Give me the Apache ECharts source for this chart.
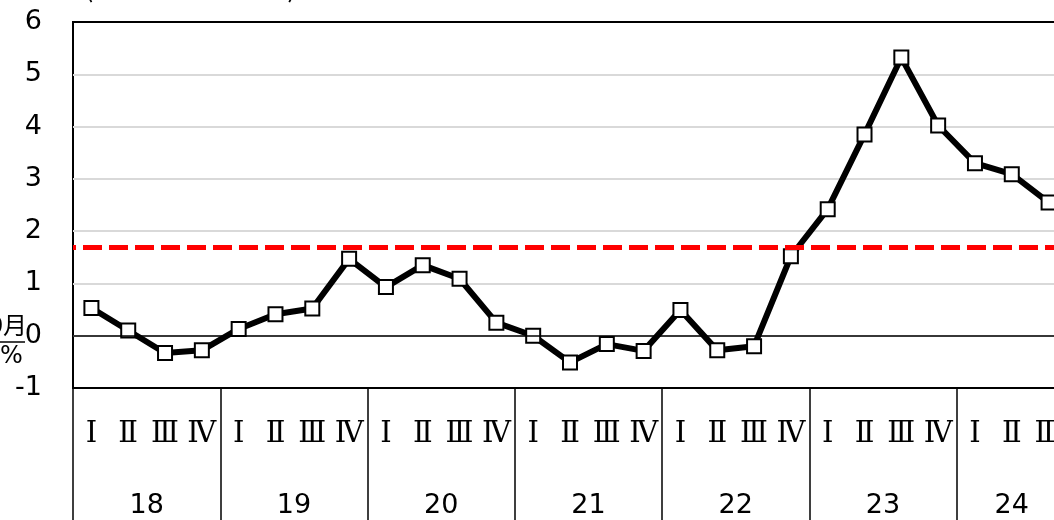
<!DOCTYPE html>
<html>
<head>
<meta charset="utf-8">
<script src="https://cdn.jsdelivr.net/npm/echarts@6/dist/echarts.min.js"></script>
<style>
  html, body { margin: 0; padding: 0; background: #fff; }
  #chart { width: 1054px; height: 520px; }
</style>
</head>
<body>
<div id="chart"></div>
<script>
// quarters from 2018 Q1 to 2024 Q3
const quarterLabels = [
  'Ⅰ', 'Ⅱ', 'Ⅲ', 'Ⅳ', 'Ⅰ', 'Ⅱ', 'Ⅲ', 'Ⅳ', 'Ⅰ', 'Ⅱ', 'Ⅲ', 'Ⅳ', 'Ⅰ', 'Ⅱ',
  'Ⅲ', 'Ⅳ', 'Ⅰ', 'Ⅱ', 'Ⅲ', 'Ⅳ', 'Ⅰ', 'Ⅱ', 'Ⅲ', 'Ⅳ', 'Ⅰ', 'Ⅱ', 'Ⅲ'
]
const yearLabels = ['18', '19', '20', '21', '22', '23', '24']
const quartersPerYear = [4, 4, 4, 4, 4, 4, 3]
const yoyValues = [
  0.53, 0.10, -0.33, -0.28, 0.13, 0.41, 0.52, 1.47, 0.93, 1.35, 1.09, 0.25,
  0.00, -0.51, -0.16, -0.29, 0.49, -0.28, -0.20, 1.52, 2.42, 3.85, 5.32,
  4.02, 3.30, 3.09, 2.55
]
const referenceLevel = 1.7
const yTicks = [-1, 0, 1, 2, 3, 4, 5, 6]

// year group boundaries / centres, counted in quarters
let yearBounds = [0]
let yearCentres = []
quartersPerYear.forEach((n) => {
  let start = yearBounds[yearBounds.length - 1]
  yearCentres.push(start + n / 2)
  yearBounds.push(start + n)
})

const chart = echarts.init(document.getElementById('chart'))
const sansFont = '"DejaVu Sans", Verdana, sans-serif'

let option = {
  animation: false,
  grid: {
    left: 73,
    top: 22,
    width: 994,
    bottom: 132,
    outerBoundsMode: 'none',
    show: true,
    borderColor: '#000',
    borderWidth: 2
  },
  graphic: [
    {
      type: 'text',
      left: 84,
      top: -28,
      style: { text: '(前年同期比、%)', font: '28px "Noto Sans CJK JP", sans-serif', fill: '#000' }
    },
    {
      type: 'text',
      right: 1027,
      top: 313,
      style: { text: '9月', font: '24px "Noto Sans CJK JP", sans-serif', fill: '#000' }
    },
    {
      type: 'line',
      shape: { x1: 0, y1: 342, x2: 25, y2: 342 },
      style: { stroke: '#000', lineWidth: 1.5 }
    },
    {
      type: 'text',
      left: 0,
      top: 345,
      style: { text: '%', font: '24px ' + sansFont, fill: '#000' }
    }
  ],
  xAxis: [
    {
      type: 'category',
      data: quarterLabels,
      boundaryGap: true,
      position: 'bottom',
      axisLine: { onZero: false, lineStyle: { color: '#000', width: 1.5 } },
      axisTick: { show: false },
      axisLabel: {
        interval: 0,
        margin: 32,
        color: '#000',
        fontSize: 29,
        fontFamily: '"DejaVu Serif", "Liberation Serif", serif'
      },
      splitLine: { show: false }
    },
    {
      type: 'value',
      min: 0,
      max: yearBounds[yearBounds.length - 1],
      position: 'bottom',
      axisLine: { show: false, onZero: false },
      axisTick: {
        show: true,
        customValues: yearBounds,
        length: 132,
        lineStyle: { color: '#000', width: 1.5 }
      },
      axisLabel: {
        customValues: yearCentres,
        margin: 104,
        color: '#000',
        fontSize: 27,
        fontFamily: sansFont,
        formatter: (v) => yearLabels[yearCentres.indexOf(v)]
      },
      splitLine: { show: false }
    }
  ],
  yAxis: {
    type: 'value',
    min: yTicks[0],
    max: yTicks[yTicks.length - 1],
    interval: 1,
    axisLine: { show: false },
    axisTick: { show: false },
    axisLabel: {
      margin: 31,
      color: '#000',
      fontSize: 27,
      fontFamily: sansFont
    },
    splitLine: { showMaxLine: false, showMinLine: false, lineStyle: { color: '#d9d9d9', width: 2 } }
  },
  series: [
    {
      name: 'zero',
      type: 'line',
      data: [],
      z: 1,
      markLine: {
        silent: true,
        symbol: 'none',
        label: { show: false },
        lineStyle: { color: '#000', width: 1.5, type: 'solid' },
        data: [{ yAxis: 0 }]
      }
    },
    {
      name: 'yoy',
      type: 'line',
      data: yoyValues,
      z: 2,
      symbol: 'rect',
      symbolSize: 14,
      lineStyle: { color: '#000', width: 6 },
      itemStyle: { color: '#fff', borderColor: '#000', borderWidth: 2 }
    },
    {
      name: 'reference',
      type: 'line',
      data: [],
      z: 3,
      markLine: {
        silent: true,
        symbol: 'none',
        label: { show: false },
        lineStyle: { color: '#ff0000', width: 5, type: [19, 7], dashOffset: -10 },
        data: [{ yAxis: referenceLevel }]
      }
    }
  ]
}
chart.setOption(option)
</script>
</body>
</html>
